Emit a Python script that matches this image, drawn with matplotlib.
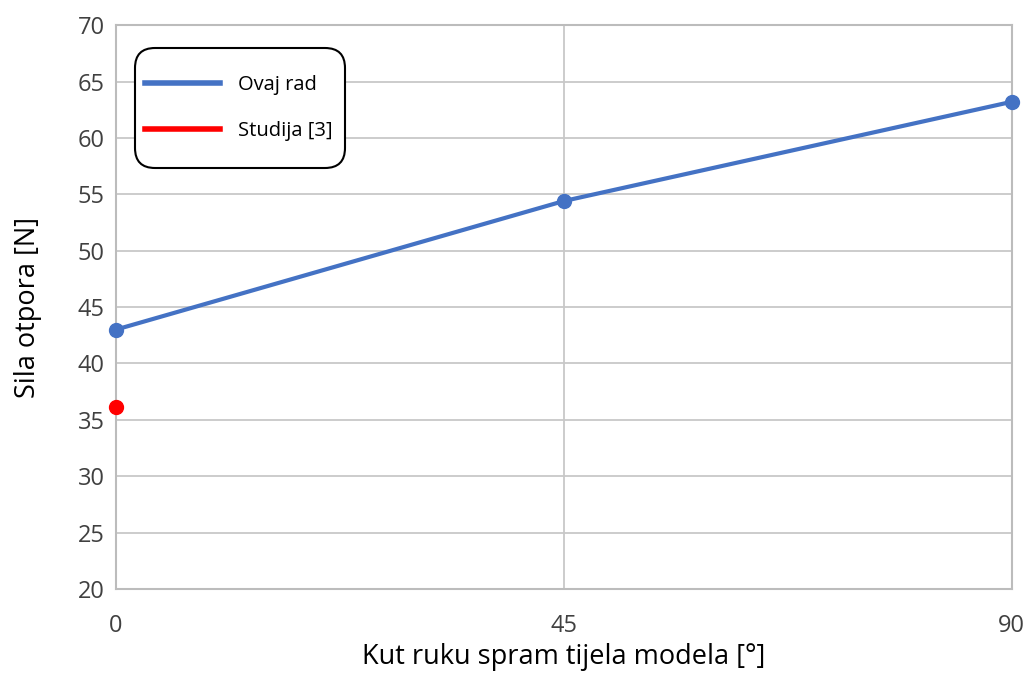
import matplotlib
matplotlib.use("Agg")
import matplotlib.pyplot as plt
from matplotlib.lines import Line2D
from matplotlib.patches import FancyBboxPatch

x_ovaj = [0, 45, 90]
y_ovaj = [43.0, 54.4, 63.2]
x_studija = [0]
y_studija = [36.1]
xticks = [0, 45, 90]
yticks = [20, 25, 30, 35, 40, 45, 50, 55, 60, 65, 70]

plt.rcParams['font.family'] = ['Open Sans', 'DejaVu Sans']
txt = '#404040'
grid = '#c8c8c8'

fig = plt.figure(figsize=(10.27, 6.8), dpi=100)
ax = fig.add_axes([0.113, 0.134, 0.872, 0.829])

ax.plot(x_ovaj, y_ovaj, color='#4472C4', lw=3, marker='o', ms=10, label='Ovaj rad', clip_on=False, zorder=3)
ax.plot(x_studija, y_studija, color='#FF0000', lw=3, marker='o', ms=10, label='Studija [3]', clip_on=False, zorder=3)

ax.set_xlim(0, 90)
ax.set_ylim(20, 70)
ax.set_xticks(xticks)
ax.set_yticks(yticks)
ax.grid(True, color=grid, lw=1.3)
ax.set_axisbelow(True)
for s in ax.spines.values():
    s.set_color('#bcbcbc')
    s.set_linewidth(1.5)
ax.tick_params(length=0, labelsize=17, colors=txt, pad=8)
ax.tick_params(axis='x', pad=18)
ax.set_xlabel('Kut ruku spram tijela modela [°]', fontsize=19.5, color='black', labelpad=4)
ax.set_ylabel('Sila otpora [N]', fontsize=19.5, color='black', labelpad=26)

# legend frame (rounded box)
frame = FancyBboxPatch((1.35, 5.12), 2.10, 1.20, boxstyle='round,pad=0,rounding_size=0.2',
                       transform=fig.dpi_scale_trans, facecolor='white', edgecolor='black',
                       lw=1.5, zorder=4)
fig.add_artist(frame)

handles = [Line2D([], [], color='#4472C4', lw=4), Line2D([], [], color='#FF0000', lw=4)]
leg = fig.legend(handles, ['Ovaj rad', 'Studija [3]'], loc='upper left',
                 bbox_to_anchor=(145 / 1027, (680 - 75) / 680), borderaxespad=0, borderpad=0,
                 fontsize=14.5, handlelength=3.7, handletextpad=0.9, labelspacing=1.3,
                 frameon=False)
leg.set_zorder(5)
for t in leg.get_texts():
    t.set_color('black')

fig.savefig('out.png', dpi=100)
